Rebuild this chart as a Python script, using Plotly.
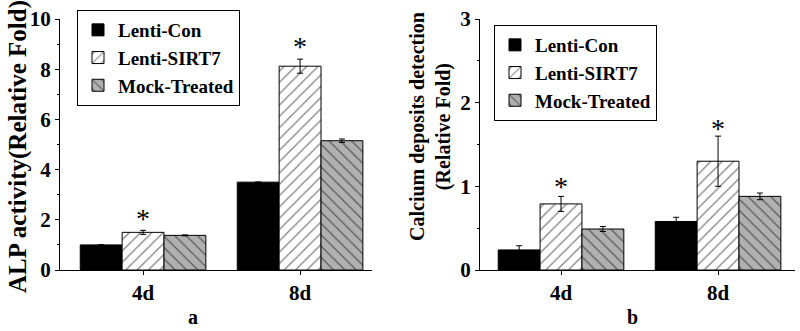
import plotly.graph_objects as go

categories = ["4d", "8d"]
series = ["Lenti-Con", "Lenti-SIRT7", "Mock-Treated"]

alp_values = {
    "Lenti-Con": [1.0, 3.5],
    "Lenti-SIRT7": [1.5, 8.12],
    "Mock-Treated": [1.38, 5.15],
}
alp_errors = {
    "Lenti-Con": [0.0, 0.0],
    "Lenti-SIRT7": [0.08, 0.28],
    "Mock-Treated": [0.02, 0.07],
}
ca_values = {
    "Lenti-Con": [0.24, 0.58],
    "Lenti-SIRT7": [0.79, 1.30],
    "Mock-Treated": [0.49, 0.88],
}
ca_errors = {
    "Lenti-Con": [0.05, 0.05],
    "Lenti-SIRT7": [0.09, 0.30],
    "Mock-Treated": [0.03, 0.04],
}
alp_star_y = [2.05, 8.9]
ca_star_y = [1.0, 1.69]

FONT = "Liberation Serif"
styles = {
    "Lenti-Con": dict(color="black", pattern=dict(shape="")),
    "Lenti-SIRT7": dict(color="white", pattern=dict(shape="/", fgcolor="black", bgcolor="white", size=8, solidity=0.15)),
    "Mock-Treated": dict(color="#b0b0b0", pattern=dict(shape="\\", fgcolor="black", bgcolor="#b0b0b0", size=8, solidity=0.15)),
}

fig = go.Figure()
for s in series:
    st = styles[s]
    fig.add_trace(go.Bar(
        x=categories, y=alp_values[s], name=s, xaxis="x", yaxis="y", legend="legend",
        marker=dict(color=st["color"], pattern=st["pattern"], line=dict(color="black", width=1)),
        error_y=dict(type="data", array=alp_errors[s], visible=True, color="black", thickness=1, width=3),
    ))
for s in series:
    st = styles[s]
    fig.add_trace(go.Bar(
        x=categories, y=ca_values[s], name=s, xaxis="x2", yaxis="y2", legend="legend2",
        marker=dict(color=st["color"], pattern=st["pattern"], line=dict(color="black", width=1)),
        error_y=dict(type="data", array=ca_errors[s], visible=True, color="black", thickness=1, width=3),
    ))

bold = lambda size: dict(family=FONT, size=size, color="black", weight="bold")

annotations = []
for i, c in enumerate(categories):
    annotations.append(dict(x=c, y=alp_star_y[i], xref="x", yref="y", text="*", showarrow=False,
                            font=dict(family=FONT, size=28, color="black")))
    annotations.append(dict(x=c, y=ca_star_y[i], xref="x2", yref="y2", text="*", showarrow=False,
                            font=dict(family=FONT, size=28, color="black")))
annotations += [
    dict(x=193/800, y=1-317/331, xref="paper", yref="paper", text="a", showarrow=False,
         xanchor="center", yanchor="middle", font=bold(20)),
    dict(x=632/800, y=1-317/331, xref="paper", yref="paper", text="b", showarrow=False,
         xanchor="center", yanchor="middle", font=bold(20)),
    dict(x=18/800, y=1-147/331, xref="paper", yref="paper", text="ALP activity(Relative Fold)",
         textangle=-90, showarrow=False, xanchor="center", yanchor="middle", font=bold(25)),
    dict(x=430/800, y=1-127/331, xref="paper", yref="paper",
         text="Calcium deposits detection<br>(Relative Fold)",
         textangle=-90, showarrow=False, xanchor="center", yanchor="middle", font=bold(20)),
]

axis_common = dict(showline=True, linecolor="black", linewidth=1, ticks="outside", ticklen=4,
                   tickcolor="black", showgrid=False, zeroline=False, automargin=False,
                   tickfont=bold(21))
ydom = [(331-270)/331, (331-19)/331]

legend_common = dict(bgcolor="white", bordercolor="black", borderwidth=1,
                     font=bold(19), xanchor="left", yanchor="top", tracegroupgap=0, itemwidth=30)

fig.update_layout(
    width=800, height=331, margin=dict(l=0, r=0, t=0, b=0, autoexpand=False),
    paper_bgcolor="white", plot_bgcolor="white",
    barmode="group", bargap=0.2, bargroupgap=0,
    xaxis=dict(domain=[60/800, 372/800], range=[-0.529, 1.458], anchor="y", **axis_common),
    yaxis=dict(domain=ydom, range=[0, 10], tickvals=[0, 2, 4, 6, 8, 10], anchor="x",
               minor=dict(dtick=1, ticks="outside", ticklen=2, tickcolor="black"),
               **axis_common),
    xaxis2=dict(domain=[480/800, 795/800], range=[-0.516, 1.49], anchor="y2", **axis_common),
    yaxis2=dict(domain=ydom, range=[0, 3], tickvals=[0, 1, 2, 3], anchor="x2",
                minor=dict(dtick=0.5, ticks="outside", ticklen=2, tickcolor="black"),
                **axis_common),
    legend=dict(x=77/800, y=1-10/331, **legend_common),
    legend2=dict(x=494/800, y=1-25/331, **legend_common),
    annotations=annotations,
)

fig.write_html("out.html", config={"displayModeBar": False},
               post_script="document.body.style.margin='0';document.body.style.padding='0';")
